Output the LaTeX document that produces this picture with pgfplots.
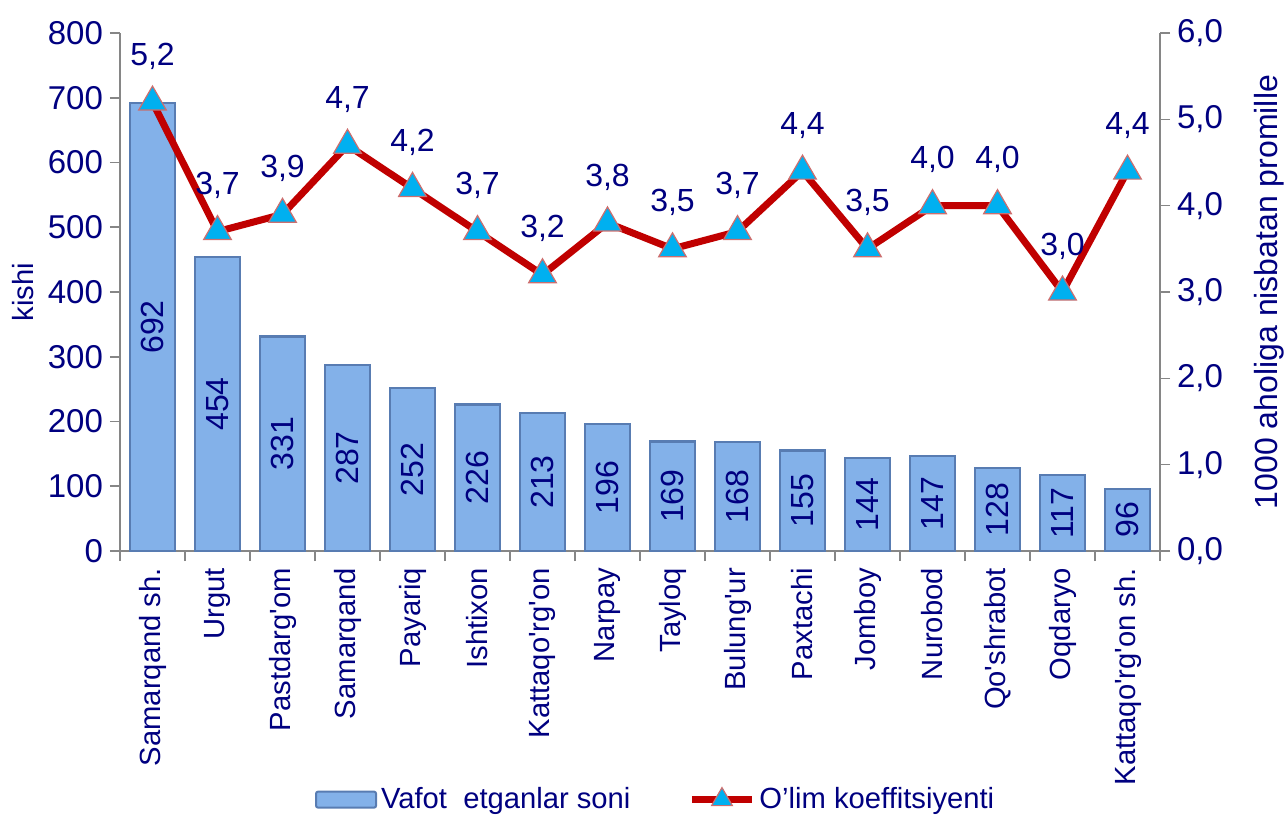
\documentclass[border=0pt]{standalone}
\usepackage{pgfplots}
\usepackage{pgfplotstable}
\pgfplotsset{compat=1.18}
\usepackage{fontspec}
\setmainfont{Liberation Sans}[Ligatures=TeXOff]
\definecolor{txt}{RGB}{0,0,128}
\definecolor{lred}{RGB}{192,0,0}
\definecolor{tri}{RGB}{0,176,240}
\definecolor{triedge}{RGB}{205,110,110}
\definecolor{barmid}{RGB}{131,177,233}
\definecolor{baredge}{RGB}{88,124,178}
\definecolor{axgray}{RGB}{134,134,134}
\newcommand{\fs}{\fontsize{14.6}{17}\selectfont}
\newcommand{\ft}{\fontsize{16.5}{19}\selectfont}
\newcommand{\fb}{\fontsize{16}{19}\selectfont}
\newcommand{\fl}{\fontsize{16}{19}\selectfont}

\pgfplotstableread{
x name v r
0 {Samarqand sh.} 692 5.2
1 {Urgut} 454 3.7
2 {Pastdarg'om} 331 3.9
3 {Samarqand} 287 4.7
4 {Payariq} 252 4.2
5 {Ishtixon} 226 3.7
6 {Kattaqo'rg'on} 213 3.2
7 {Narpay} 196 3.8
8 {Tayloq} 169 3.5
9 {Bulung'ur} 168 3.7
10 {Paxtachi} 155 4.4
11 {Jomboy} 144 3.5
12 {Nurobod} 147 4.0
13 {Qo'shrabot} 128 4.0
14 {Oqdaryo} 117 3.0
15 {Kattaqo'rg'on sh.} 96 4.4
}\data

\begin{document}
\begin{tikzpicture}[font=\fs]
\useasboundingbox (0,0) rectangle (642.5pt,407pt);
\begin{axis}[
  at={(60pt,131.5pt)}, anchor=south west,
  scale only axis, width=520pt, height=259pt,
  xmin=-0.5, xmax=15.5, ymin=0, ymax=800,
  axis y line*=left, axis x line*=bottom,
  axis line style={axgray, line width=0.8pt, -},
  every tick/.style={axgray, line width=0.8pt},
  tick align=outside,
  ytick={0,100,...,800},
  major tick length=5pt,
  xtick={0,...,15},
  xticklabels from table={\data}{name},
  major x tick style={draw=none},
  minor xtick={-0.5,0.5,...,15.5},
  minor tick length=5pt,
  xticklabel style={rotate=90, anchor=east, text=txt, font=\fs},
  yticklabel style={text=txt, font=\ft},
  /pgf/number format/assume math mode=true,
  ylabel={kishi},
  ylabel style={text=txt, font=\fs},
  clip=false,
  legend style={at={(0.516,-0.48)}, anchor=center, draw=none, fill=none,
    legend columns=2, font=\fs, text=txt,
    /tikz/every even column/.append style={column sep=27pt}},
]
\addplot[ybar, bar width=22.5pt, draw=baredge, line width=1.2pt, fill=barmid,
  legend image code/.code={\draw[draw=baredge, line width=1pt, fill=barmid, rounded corners=1pt] (0pt,-4pt) rectangle (30pt,4pt);}]
  table[x=x, y=v] {\data};
\addlegendentry{Vafot\ \ etganlar soni}
\addlegendimage{legend image code/.code={%
  \draw[lred, line width=3.5pt] (0pt,0pt) -- (30pt,0pt);
  \draw[lred, line width=3.5pt, mark=triangle*, mark size=6pt, mark options={fill=tri, draw=triedge, line width=0.6pt}] plot coordinates {(15pt,0pt)};}}
\addlegendentry{O’lim koeffitsiyenti}
\addplot[only marks, mark=none, nodes near coords, point meta=explicit symbolic,
  every node near coord/.style={rotate=90, anchor=center, text=txt, font=\fb}]
  table[x=x, y expr=\thisrow{v}/2, meta=v] {\data};
\end{axis}
\begin{axis}[
  at={(60pt,131.5pt)}, anchor=south west,
  scale only axis, width=520pt, height=259pt,
  xmin=-0.5, xmax=15.5, ymin=0, ymax=6,
  axis y line*=right, axis x line=none,
  axis line style={axgray, line width=0.8pt, -},
  every tick/.style={axgray, line width=0.8pt},
  tick align=outside, major tick length=5pt,
  ytick={0,...,6},
  yticklabel style={text=txt, font=\ft,
    /pgf/number format/.cd, fixed, fixed zerofill, precision=1, use comma},
  /pgf/number format/assume math mode=true,
  ylabel={1000 aholiga nisbatan promille},
  ylabel style={text=txt, font=\fb},
  ylabel shift=9pt,
  clip=false,
]
\addplot[lred, line width=3.5pt, mark=triangle*, mark size=8pt,
  mark options={fill=tri, draw=triedge, line width=0.6pt},
  nodes near coords={\pgfmathprintnumber[fixed, fixed zerofill, precision=1, use comma, assume math mode=true]{\pgfplotspointmeta}},
  point meta=y,
  every node near coord/.style={anchor=center, yshift=23pt, text=txt, font=\fl}]
  table[x=x, y=r] {\data};
\end{axis}
\end{tikzpicture}
\end{document}
